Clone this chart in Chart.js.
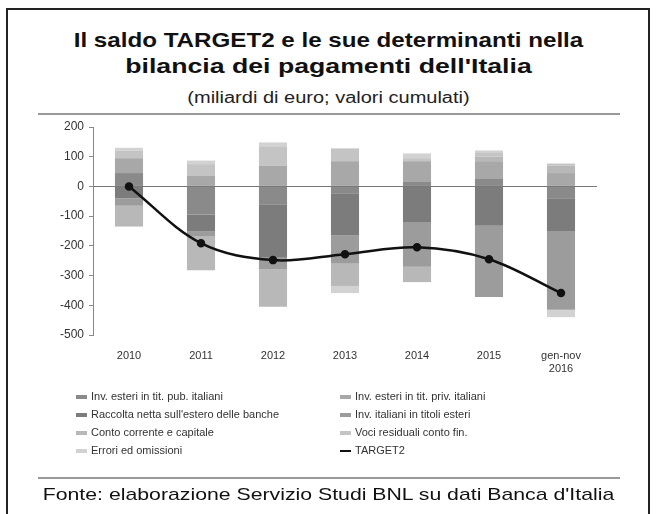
<!DOCTYPE html>
<html>
<head>
<meta charset="utf-8">
<script src="https://cdn.jsdelivr.net/npm/chart.js@4.4.1/dist/chart.umd.min.js"></script>
<style>
    body { margin: 0; background: #fff; font-family: "Liberation Sans", Arial, sans-serif; }
    #wrap { position: relative; width: 657px; height: 514px; overflow: hidden; }
    #frame { position: absolute; left: 6px; top: 8px; width: 644px; height: 520px; border: 2px solid #222; box-sizing: border-box; }
    .title { position: absolute; left: 0; width: 657px; text-align: center; color: #111; }
    #t1 { top: 28px; font-size: 21px; font-weight: bold; transform: scaleX(1.15); }
    #t2 { top: 54px; font-size: 21px; font-weight: bold; transform: scaleX(1.27); }
    #sub { top: 89px; font-size: 16px; color: #222; transform: scaleX(1.25); }
    .rule { position: absolute; left: 38px; width: 582px; height: 2px; background: #999; }
    #chart { position: absolute; left: 0; top: 0; }
    #legend { position: absolute; left: 76px; top: 390px; width: 540px; font-size: 11px; color: #333; }
    .item { position: absolute; white-space: nowrap; }
    .mark { display: inline-block; width: 11px; height: 4px; margin-right: 4px; vertical-align: middle; }
    #source { position: absolute; left: 0; width: 657px; top: 485px; text-align: center; font-size: 17px; color: #111; transform: scaleX(1.25); }
</style>
</head>
<body>
<div id="wrap">
    <div id="frame"></div>
    <div class="title" id="t1">Il saldo TARGET2 e le sue determinanti nella</div>
    <div class="title" id="t2">bilancia dei pagamenti dell'Italia</div>
    <div class="title" id="sub">(miliardi di euro; valori cumulati)</div>
    <div class="rule" style="top:113px"></div>
    <canvas id="chart" width="657" height="514"></canvas>
    <div id="legend"></div>
    <div class="rule" style="top:477px"></div>
    <div id="source">Fonte: elaborazione Servizio Studi BNL su dati Banca d'Italia</div>
</div>
<script>
// anni (ultimo periodo: gennaio-novembre 2016)
var anni = ['2010', '2011', '2012', '2013', '2014', '2015', ['gen-nov', '2016']];

// componenti cumulate della bilancia dei pagamenti (miliardi di euro)
var invEsteriPub = [45, -95, -60, -25, 15, 25, -40];
var invEsteriPriv = [50, 35, 70, 85, 70, 60, 45];
var raccoltaBanche = [-40, -57, -180, -140, -120, -132, -110];
var invItalianiEsteri = [-25, -15, -40, -95, -150, -240, -265];
var contoCorrente = [-70, -115, -125, -75, -52, 15, 25];
var vociResiduali = [25, 40, 65, 43, 10, 15, 7];
var erroriOmissioni = [10, 12, 13, -24, 16, 6, -25];

// saldo TARGET2
var target2 = [0, -191, -248, -228, -205, -245, -359];

var yTicks = [200, 100, 0, -100, -200, -300, -400, -500];

var serie = [
    { label: 'Inv. esteri in tit. pub. italiani', data: invEsteriPub, color: '#8a8a8a' },
    { label: 'Inv. esteri in tit. priv. italiani', data: invEsteriPriv, color: '#a8a8a8' },
    { label: 'Raccolta netta sull\'estero delle banche', data: raccoltaBanche, color: '#7c7c7c' },
    { label: 'Inv. italiani in titoli esteri', data: invItalianiEsteri, color: '#9c9c9c' },
    { label: 'Conto corrente e capitale', data: contoCorrente, color: '#b8b8b8' },
    { label: 'Voci residuali conto fin.', data: vociResiduali, color: '#c4c4c4' },
    { label: 'Errori ed omissioni', data: erroriOmissioni, color: '#d2d2d2' }
];

var datasets = serie.map(function(s) {
    return {
        type: 'bar',
        label: s.label,
        data: s.data,
        backgroundColor: s.color,
        borderWidth: 0,
        stack: 'bp',
        order: 2
    };
});

datasets.push({
    type: 'line',
    label: 'TARGET2',
    data: target2,
    borderColor: '#111',
    backgroundColor: '#111',
    borderWidth: 2.5,
    tension: 0.35,
    pointRadius: 3,
    pointBackgroundColor: '#111',
    order: 1
});

var tickFont = { family: '"Liberation Sans", Arial, sans-serif', size: 11 };

var chart = new Chart(document.getElementById('chart').getContext('2d'), {
    data: { labels: anni, datasets: datasets },
    options: {
        responsive: false,
        animation: false,
        layout: { padding: { left: 49, right: 60, top: 127, bottom: 140 } },
        plugins: { legend: { display: false }, tooltip: { enabled: false } },
        datasets: { bar: { categoryPercentage: 1, barPercentage: 0.39 } },
        scales: {
            x: {
                stacked: true,
                grid: { display: false },
                border: { display: false },
                ticks: { font: tickFont, color: '#333', padding: 6, maxRotation: 0 },
                afterFit: function(scale) { scale.height = 39; }
            },
            y: {
                stacked: true,
                min: -500,
                max: 200,
                afterBuildTicks: function(scale) {
                    scale.ticks = yTicks.map(function(v) { return { value: v }; });
                },
                grid: {
                    color: function(ctx) { return ctx.tick && ctx.tick.value === 0 ? '#777' : 'rgba(0,0,0,0)'; },
                    tickColor: '#888',
                    tickLength: 4
                },
                border: { display: true, color: '#888' },
                ticks: { font: { family: tickFont.family, size: 12 }, color: '#333', padding: 5 },
                afterFit: function(scale) { scale.width = 44; }
            }
        }
    }
});

// legenda su due colonne, letta per righe
var legend = document.getElementById('legend');
var voci = serie.map(function(s) { return { label: s.label, color: s.color }; });
voci.push({ label: 'TARGET2', color: '#111', line: true });
for (var i = 0; i < voci.length; i++) {
    var v = voci[i];
    var div = document.createElement('div');
    div.className = 'item';
    div.style.left = (i % 2 === 0 ? 0 : 264) + 'px';
    div.style.top = (Math.floor(i / 2) * 18) + 'px';
    var mark = '<span class="mark" style="background:' + v.color + (v.line ? ';height:2px' : '') + '"></span>';
    div.innerHTML = mark + v.label;
    legend.appendChild(div);
}
</script>
</body>
</html>
